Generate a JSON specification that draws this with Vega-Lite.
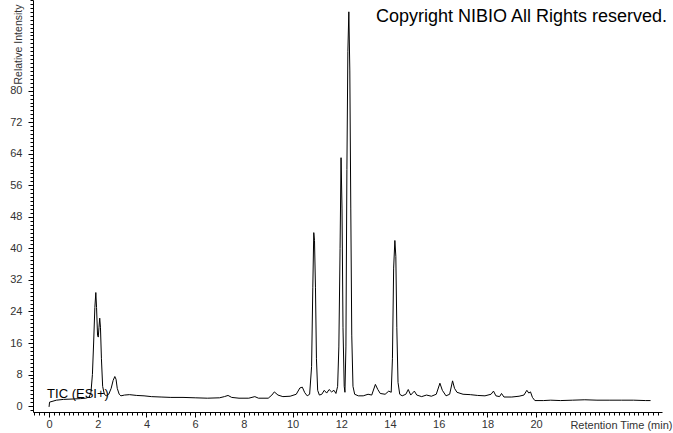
{
 "$schema": "https://vega.github.io/schema/vega-lite/v6.json",
 "width": 629, "height": 412,
 "autosize": "none",
 "padding": {"left": 33, "top": 0, "right": 11, "bottom": 21},
 "background": "white",
 "config": {"view": {"stroke": null}, "axis": {"labelFont": "Liberation Sans", "titleFont": "Liberation Sans", "grid": false, "domainColor": "black", "tickColor": "black", "labelColor": "#333", "labelFontSize": 11, "titleFontSize": 11, "titleFontWeight": "normal", "titleColor": "#333"}},
 "datasets": {
  "tic": [
   {"t":0.00,"i":-0.2},{"t":0.02,"i":1.0},{"t":0.3,"i":1.5},{"t":0.6,"i":1.7},{"t":1.0,"i":1.8},{"t":1.3,"i":1.9},{"t":1.5,"i":2.0},{"t":1.65,"i":2.3},
   {"t":1.72,"i":3.5},{"t":1.78,"i":8},{"t":1.83,"i":16},{"t":1.88,"i":25},{"t":1.92,"i":28.8},{"t":1.95,"i":25},{"t":1.99,"i":18},{"t":2.02,"i":17.5},
   {"t":2.05,"i":20},{"t":2.08,"i":22.3},{"t":2.11,"i":20},{"t":2.15,"i":12},{"t":2.2,"i":5},{"t":2.27,"i":3},{"t":2.35,"i":2.6},{"t":2.45,"i":3},
   {"t":2.55,"i":4.5},{"t":2.63,"i":6.5},{"t":2.7,"i":7.5},{"t":2.75,"i":6.8},{"t":2.8,"i":4.5},{"t":2.88,"i":3},{"t":2.95,"i":2.6},{"t":3.1,"i":2.8},
   {"t":3.3,"i":2.9},{"t":3.6,"i":2.7},{"t":3.9,"i":2.6},{"t":4.2,"i":2.4},{"t":4.6,"i":2.3},{"t":5.0,"i":2.2},{"t":5.5,"i":2.2},{"t":6.0,"i":2.1},
   {"t":6.5,"i":2.0},{"t":7.0,"i":2.1},{"t":7.2,"i":2.4},{"t":7.35,"i":2.7},{"t":7.5,"i":2.2},{"t":7.8,"i":2.0},{"t":8.2,"i":2.0},{"t":8.45,"i":2.4},
   {"t":8.6,"i":2.0},{"t":9.0,"i":2.0},{"t":9.15,"i":2.8},{"t":9.25,"i":3.6},{"t":9.4,"i":2.8},{"t":9.6,"i":2.4},{"t":9.9,"i":2.5},{"t":10.15,"i":3.0},
   {"t":10.3,"i":4.6},{"t":10.4,"i":4.8},{"t":10.5,"i":3.4},{"t":10.6,"i":2.6},{"t":10.7,"i":3.0},{"t":10.78,"i":10},{"t":10.83,"i":30},{"t":10.87,"i":44},
   {"t":10.9,"i":42},{"t":10.94,"i":30},{"t":10.98,"i":12},{"t":11.03,"i":4},{"t":11.1,"i":2.8},{"t":11.2,"i":3.0},{"t":11.3,"i":4.0},{"t":11.4,"i":3.3},
   {"t":11.5,"i":4.2},{"t":11.6,"i":3.6},{"t":11.7,"i":4.0},{"t":11.78,"i":3.2},{"t":11.85,"i":5},{"t":11.9,"i":15},{"t":11.95,"i":40},{"t":11.99,"i":63},
   {"t":12.03,"i":50},{"t":12.07,"i":20},{"t":12.12,"i":5},{"t":12.15,"i":3.5},{"t":12.19,"i":15},{"t":12.23,"i":60},{"t":12.27,"i":90},{"t":12.31,"i":100},
   {"t":12.35,"i":85},{"t":12.39,"i":50},{"t":12.43,"i":18},{"t":12.48,"i":5},{"t":12.55,"i":3},{"t":12.7,"i":2.6},{"t":12.9,"i":2.6},{"t":13.1,"i":3.0},
   {"t":13.25,"i":2.8},{"t":13.4,"i":5.5},{"t":13.5,"i":4.2},{"t":13.6,"i":3.2},{"t":13.8,"i":3.0},{"t":13.95,"i":3.8},{"t":14.05,"i":3.5},{"t":14.1,"i":12},
   {"t":14.15,"i":35},{"t":14.2,"i":42},{"t":14.24,"i":38},{"t":14.28,"i":20},{"t":14.33,"i":6},{"t":14.4,"i":3},{"t":14.5,"i":2.6},{"t":14.65,"i":3.0},
   {"t":14.75,"i":4.2},{"t":14.85,"i":2.8},{"t":15.0,"i":3.8},{"t":15.1,"i":2.8},{"t":15.3,"i":2.4},{"t":15.5,"i":2.8},{"t":15.7,"i":2.5},{"t":15.9,"i":3.0},
   {"t":16.05,"i":5.8},{"t":16.15,"i":4.0},{"t":16.3,"i":2.6},{"t":16.45,"i":3.0},{"t":16.57,"i":6.4},{"t":16.65,"i":4.5},{"t":16.75,"i":3.5},{"t":17.0,"i":3.0},
   {"t":17.3,"i":2.9},{"t":17.6,"i":2.7},{"t":17.9,"i":2.6},{"t":18.15,"i":3.0},{"t":18.25,"i":3.8},{"t":18.35,"i":2.6},{"t":18.5,"i":2.4},{"t":18.58,"i":3.2},
   {"t":18.68,"i":2.3},{"t":19.0,"i":2.3},{"t":19.3,"i":2.5},{"t":19.5,"i":2.8},{"t":19.62,"i":4.0},{"t":19.7,"i":3.3},{"t":19.77,"i":3.6},{"t":19.85,"i":2.2},
   {"t":19.95,"i":1.4},{"t":20.3,"i":1.4},{"t":20.6,"i":1.5},{"t":21.0,"i":1.4},{"t":21.5,"i":1.5},{"t":22.0,"i":1.6},{"t":22.5,"i":1.5},{"t":23.0,"i":1.5},
   {"t":23.5,"i":1.5},{"t":24.0,"i":1.5},{"t":24.5,"i":1.4},{"t":24.7,"i":1.4}
  ]
 },
 "layer": [
  {
   "data": {"name": "tic"},
   "mark": {"type": "line", "color": "black", "strokeWidth": 1},
   "encoding": {
    "x": {"field": "t", "type": "quantitative", "scale": {"domain": [-0.66, 25.17], "nice": false, "zero": false},
      "axis": {"orient": "bottom", "values": [0,2,4,6,8,10,12,14,16,18,20], "format": "d", "tickSize": 5, "labelPadding": 1,
        "title": "Retention Time (min)", "titleAnchor": "end", "titleAlign": "right", "titleX": 639, "titleY": 16, "titleBaseline": "alphabetic"}},
    "y": {"field": "i", "type": "quantitative", "scale": {"domain": [-1.5, 103], "nice": false, "zero": false},
      "axis": {"orient": "left", "values": [0,8,16,24,32,40,48,56,64,72,80], "tickSize": 5, "labelPadding": 6,
        "title": "Relative Intensity", "titleFontSize": 10.5, "titleAngle": -90, "titleX": -15, "titleY": 44, "titleAlign": "center", "titleBaseline": "middle"}}
   }
  },
  {
   "data": {"name": "tic"},
   "mark": {"type": "point", "opacity": 0},
   "encoding": {
    "x": {"field": "t", "type": "quantitative",
      "axis": {"orient": "bottom", "domain": false, "labels": false, "title": null, "tickSize": 3,
        "values": [-0.6,-0.4,-0.2,0,0.2,0.4,0.6,0.8,1,1.2,1.4,1.6,1.8,2,2.2,2.4,2.6,2.8,3,3.2,3.4,3.6,3.8,4,4.2,4.4,4.6,4.8,5,5.2,5.4,5.6,5.8,6,6.2,6.4,6.6,6.8,7,7.2,7.4,7.6,7.8,8,8.2,8.4,8.6,8.8,9,9.2,9.4,9.6,9.8,10,10.2,10.4,10.6,10.8,11,11.2,11.4,11.6,11.8,12,12.2,12.4,12.6,12.8,13,13.2,13.4,13.6,13.8,14,14.2,14.4,14.6,14.8,15,15.2,15.4,15.6,15.8,16,16.2,16.4,16.6,16.8,17,17.2,17.4,17.6,17.8,18,18.2,18.4,18.6,18.8,19,19.2,19.4,19.6,19.8,20,20.2,20.4,20.6,20.8,21,21.2,21.4,21.6,21.8,22,22.2,22.4,22.6,22.8,23,23.2,23.4,23.6,23.8,24,24.2,24.4,24.6,24.8,25]}},
    "y": {"field": "i", "type": "quantitative",
      "axis": {"orient": "left", "domain": false, "labels": false, "title": null, "tickSize": 3,
        "values": [-1,0,1,2,3,4,5,6,7,8,9,10,11,12,13,14,15,16,17,18,19,20,21,22,23,24,25,26,27,28,29,30,31,32,33,34,35,36,37,38,39,40,41,42,43,44,45,46,47,48,49,50,51,52,53,54,55,56,57,58,59,60,61,62,63,64,65,66,67,68,69,70,71,72,73,74,75,76,77,78,79,80,81,82,83,84,85,86,87,88,89,90,91,92,93,94,95,96,97,98,99,100,101,102,103]}}
   }
  },
  {
   "data": {"values": [{"t": -0.08, "i": 2.0, "label": "TIC (ESI+)"}]},
   "mark": {"type": "text", "align": "left", "baseline": "alphabetic", "font": "Liberation Sans", "fontSize": 13, "color": "black"},
   "encoding": {"x": {"field": "t", "type": "quantitative", "axis": null}, "y": {"field": "i", "type": "quantitative", "axis": null}, "text": {"field": "label"}}
  },
  {
   "data": {"values": [{"t": 25.38, "i": 97.5, "label": "Copyright NIBIO All Rights reserved."}]},
   "mark": {"type": "text", "align": "right", "baseline": "alphabetic", "font": "Liberation Sans", "fontSize": 18, "color": "black"},
   "encoding": {"x": {"field": "t", "type": "quantitative", "axis": null}, "y": {"field": "i", "type": "quantitative", "axis": null}, "text": {"field": "label"}}
  }
 ],
 "resolve": {"axis": {"x": "independent", "y": "independent"}}
}
